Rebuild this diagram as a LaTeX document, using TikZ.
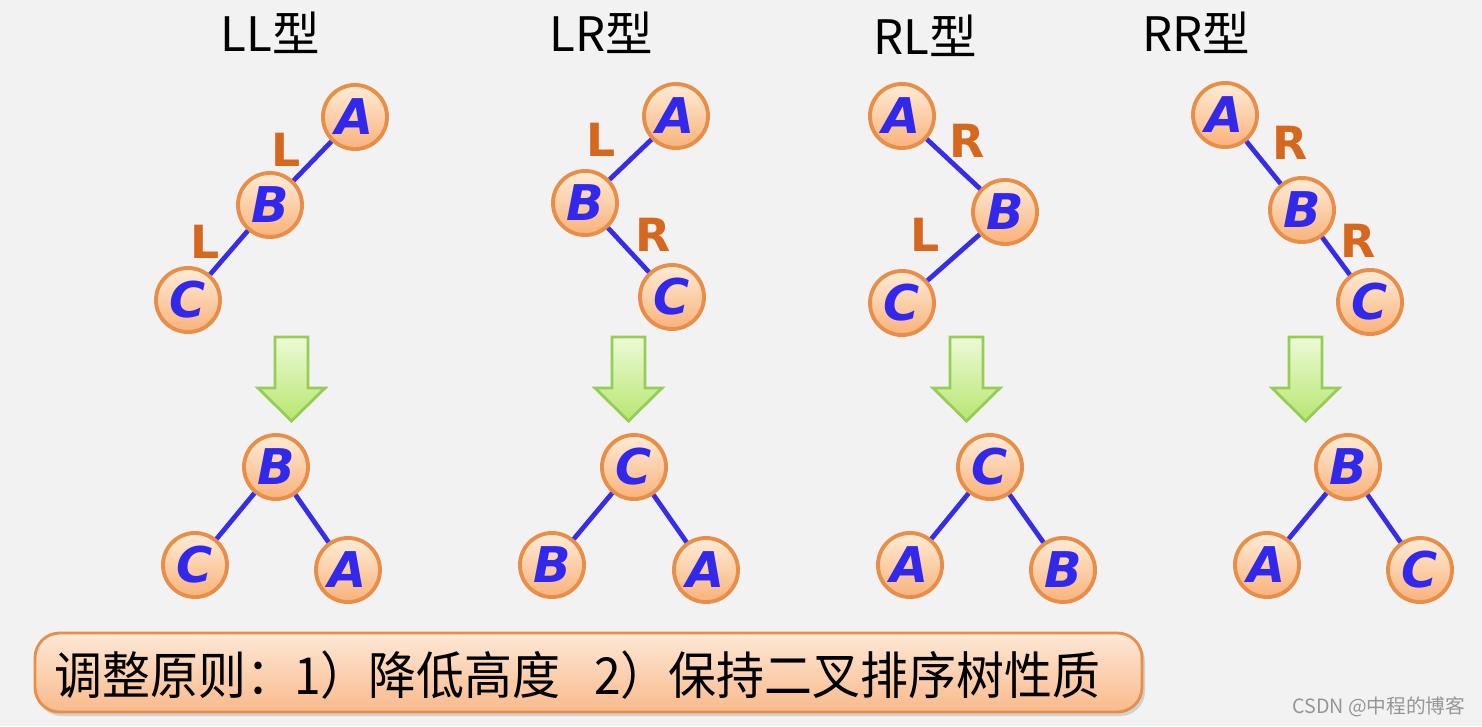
\documentclass[tikz,border=0pt]{standalone}
\usepackage{fontspec}
\newfontfamily\cjk{Noto Sans CJK SC}
\newfontfamily\verd{DejaVu Sans}
\definecolor{bgc}{RGB}{242,242,242}
\definecolor{nodetop}{RGB}{254,236,214}
\definecolor{nodebot}{RGB}{249,178,122}
\definecolor{nodeborder}{RGB}{232,142,72}
\definecolor{letterc}{RGB}{50,40,235}
\definecolor{edgec}{RGB}{55,45,230}
\definecolor{lblc}{RGB}{214,104,30}
\definecolor{arrtop}{RGB}{236,250,214}
\definecolor{arrbot}{RGB}{184,230,112}
\definecolor{arrborder}{RGB}{150,205,85}
\definecolor{boxtop}{RGB}{253,232,214}
\definecolor{boxbot}{RGB}{249,186,140}
\definecolor{wmc}{RGB}{150,150,150}
\tikzset{
  tnode/.style={circle, draw=nodeborder, line width=1.1pt, top color=nodetop, bottom color=nodebot,
    minimum size=0.64cm, inner sep=0pt, text=letterc, font=\verd\bfseries\itshape\fontsize{14}{14}\selectfont},
  tedge/.style={draw=edgec, line width=1.35pt},
  lbl/.style={text=lblc, font=\verd\bfseries\fontsize{13}{13}\selectfont, inner sep=0pt},
  ttl/.style={font=\cjk\fontsize{13.5}{13.5}\selectfont, inner sep=0pt},
  garrow/.style={draw=arrborder, line width=0.8pt, top color=arrtop, bottom color=arrbot, line join=miter}
}
\newcommand{\downarrowshape}[2]{%
  \path[garrow] (#1-16.5,337) -- (#1+16.5,337) -- (#1+16.5,388) -- (#1+33.5,388) -- (#1,421)
    -- (#1-33.5,388) -- (#1-16.5,388) -- cycle;
  \coordinate (#2) at (#1,380);
}
\begin{document}
\begin{tikzpicture}[x=0.01cm,y=-0.01cm]
\path[fill=bgc,use as bounding box] (0,0) rectangle (1482,726);

% titles
\node[ttl] (t1) at (270,33) {LL型};
\node[ttl] (t2) at (601,33) {LR型};
\node[ttl] (t3) at (925,36) {RL型};
\node[ttl] (t4) at (1196,33) {RR型};

% ---------- LL ----------
\node[tnode] (a1) at (355,117) {A};
\node[tnode] (b1) at (270,205) {B};
\node[tnode] (c1) at (188,300) {C};
\draw[tedge] (a1) -- (b1);
\draw[tedge] (b1) -- (c1);
\node[lbl] (l1a) at (286,150) {L};
\node[lbl] (l1b) at (205,242) {L};
\downarrowshape{291.5}{g1}
\node[tnode] (b1r) at (276,467) {B};
\node[tnode] (c1r) at (195,565) {C};
\node[tnode] (a1r) at (348,570) {A};
\draw[tedge] (b1r) -- (c1r);
\draw[tedge] (b1r) -- (a1r);

% ---------- LR ----------
\node[tnode] (a2) at (676,116) {A};
\node[tnode] (b2) at (585,203) {B};
\node[tnode] (c2) at (672,297) {C};
\draw[tedge] (a2) -- (b2);
\draw[tedge] (b2) -- (c2);
\node[lbl] (l2a) at (601,140) {L};
\node[lbl] (l2b) at (653,235) {R};
\downarrowshape{628.5}{g2}
\node[tnode] (c2r) at (634,467) {C};
\node[tnode] (b2r) at (552,565) {B};
\node[tnode] (a2r) at (706,570) {A};
\draw[tedge] (c2r) -- (b2r);
\draw[tedge] (c2r) -- (a2r);

% ---------- RL ----------
\node[tnode] (a3) at (902,116) {A};
\node[tnode] (b3) at (1005,212) {B};
\node[tnode] (c3) at (902,303) {C};
\draw[tedge] (a3) -- (b3);
\draw[tedge] (b3) -- (c3);
\node[lbl] (l3a) at (967,141) {R};
\node[lbl] (l3b) at (925,235) {L};
\downarrowshape{966.5}{g3}
\node[tnode] (c3r) at (990,467) {C};
\node[tnode] (a3r) at (910,565) {A};
\node[tnode] (b3r) at (1063,570) {B};
\draw[tedge] (c3r) -- (a3r);
\draw[tedge] (c3r) -- (b3r);

% ---------- RR ----------
\node[tnode] (a4) at (1225,115) {A};
\node[tnode] (b4) at (1302,210) {B};
\node[tnode] (c4) at (1370,302) {C};
\draw[tedge] (a4) -- (b4);
\draw[tedge] (b4) -- (c4);
\node[lbl] (l4a) at (1290,143) {R};
\node[lbl] (l4b) at (1358,241) {R};
\downarrowshape{1305.5}{g4}
\node[tnode] (b4r) at (1348,467) {B};
\node[tnode] (a4r) at (1267,565) {A};
\node[tnode] (c4r) at (1420,570) {C};
\draw[tedge] (b4r) -- (a4r);
\draw[tedge] (b4r) -- (c4r);

% bottom box
\fill[black!18,rounded corners=7] (37,637) rectangle (1145,716);
\path[draw=nodeborder, line width=0.8pt, top color=boxtop, bottom color=boxbot, rounded corners=7] (35,633) rectangle (1142,712);
\node[font=\cjk\fontsize{14.5}{14.5}\selectfont, inner sep=0pt, anchor=west] (rule) at (54,675) {\scalebox{0.94}[1]{调整原则：1）降低高度\hspace{0.7em}2）保持二叉排序树性质}};

% watermark
\node[font=\cjk\fontsize{5.6}{5.6}\selectfont, text=wmc, inner sep=0pt, anchor=east] (wm) at (1466,707) {CSDN @中程的博客};
\end{tikzpicture}
\end{document}
